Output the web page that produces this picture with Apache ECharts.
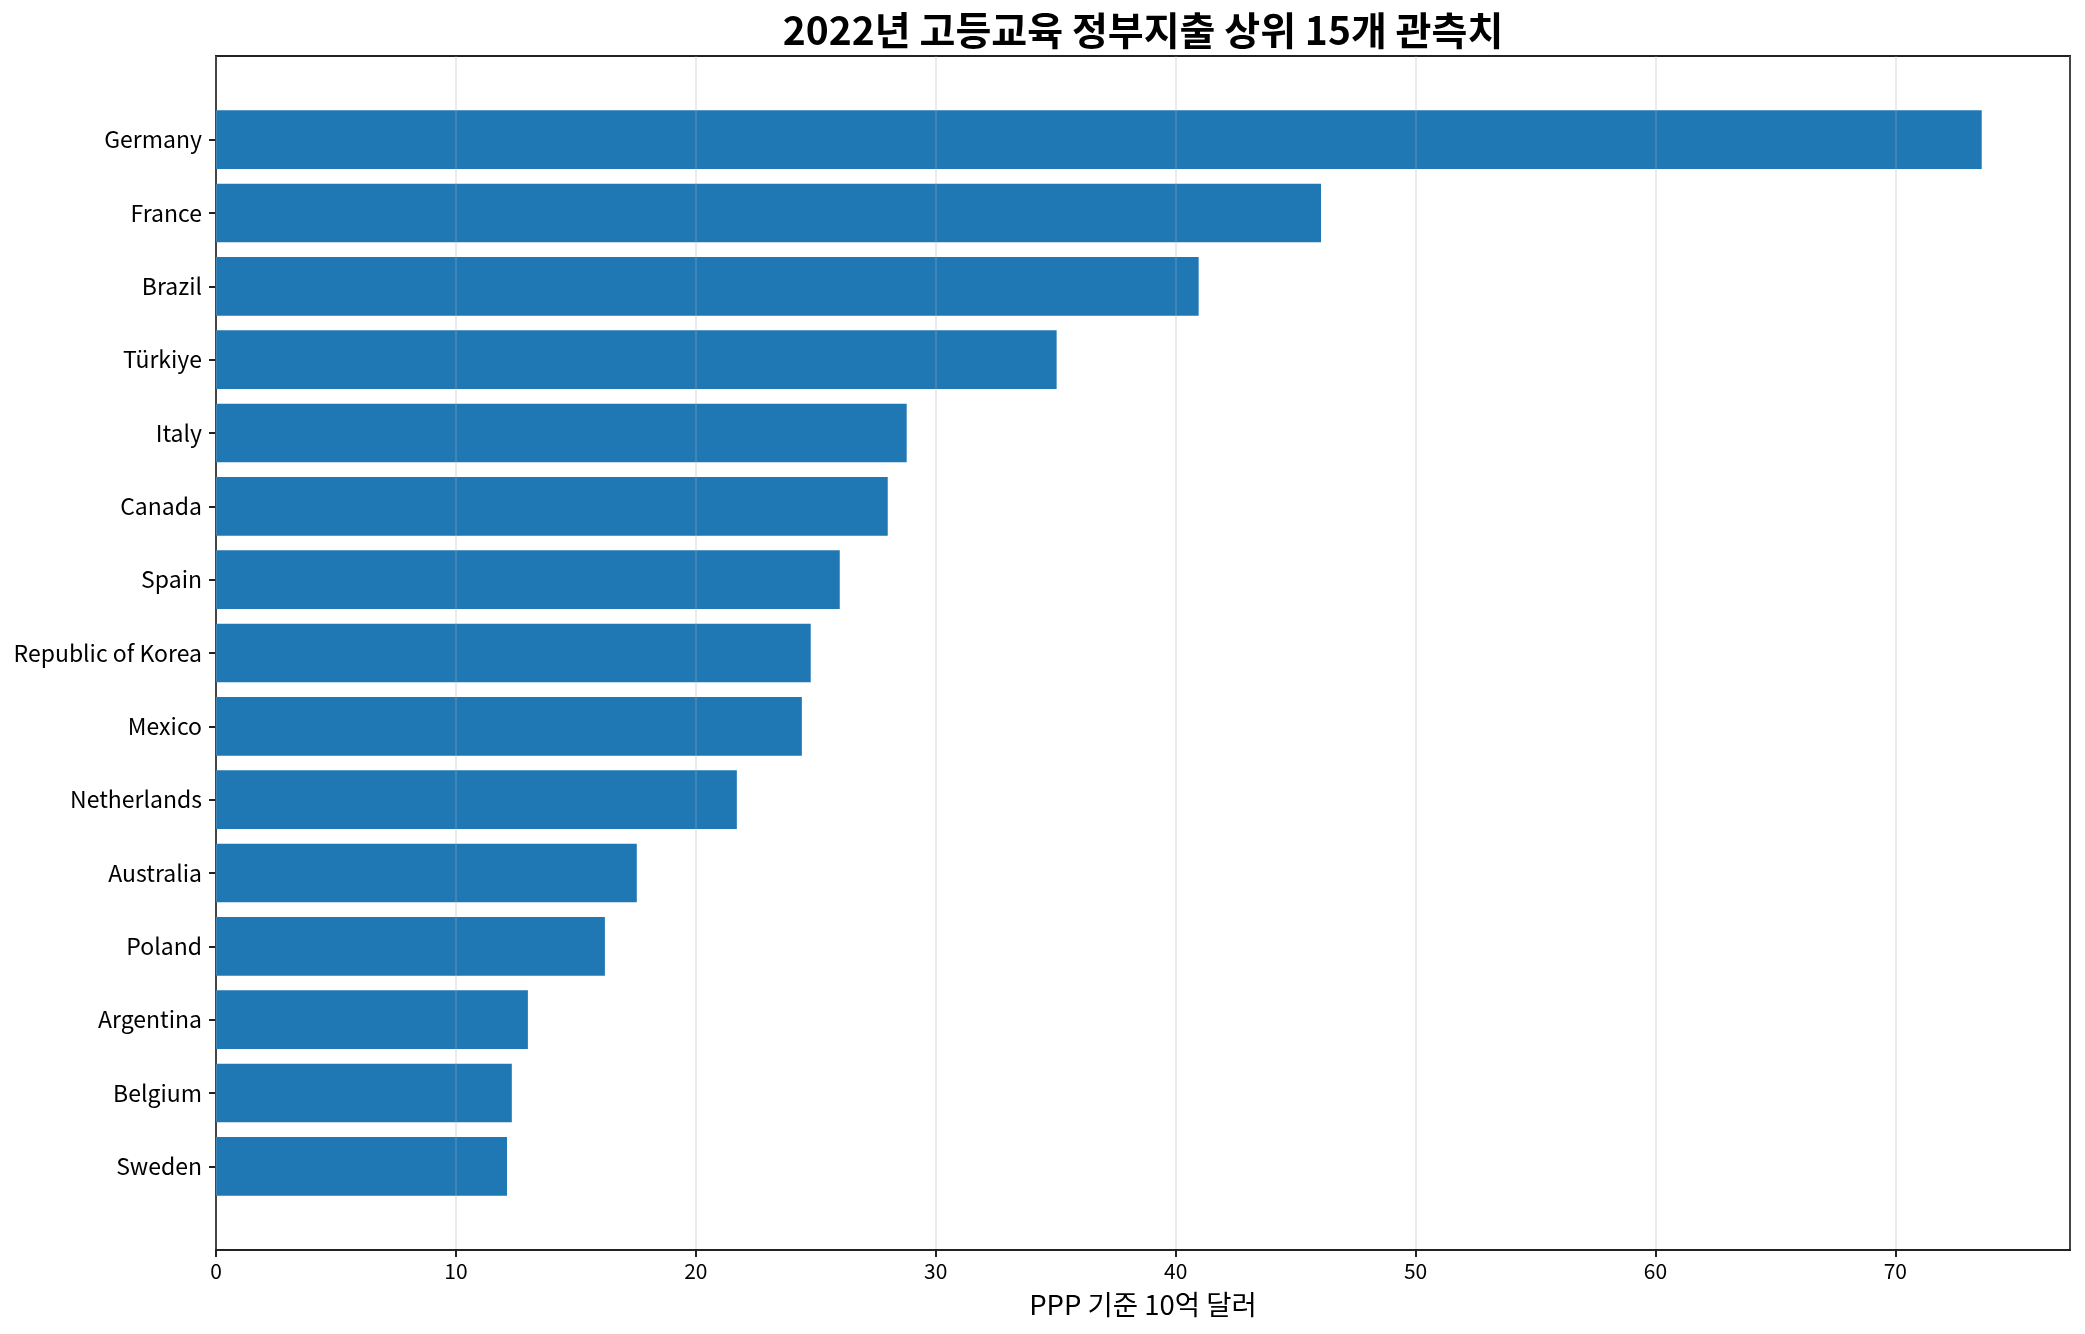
<!DOCTYPE html>
<html>
<head>
<meta charset="utf-8">
<script src="https://cdn.jsdelivr.net/npm/echarts@6/dist/echarts.min.js"></script>
<style>
  html, body { margin: 0; padding: 0; background: #fff; }
  #chart { width: 2085px; height: 1334px; }
</style>
</head>
<body>
<div id="chart"></div>
<script>
// top 15 (billion USD, PPP)
var countries = ['Germany', 'France', 'Brazil', 'Türkiye', 'Italy', 'Canada', 'Spain',
    'Republic of Korea', 'Mexico', 'Netherlands', 'Australia', 'Poland', 'Argentina',
    'Belgium', 'Sweden'];
var spending = [73.6, 46.06, 40.96, 35.04, 28.79, 28.0, 26.0, 24.79, 24.42, 21.71,
    17.54, 16.21, 13.0, 12.33, 12.13];
var xTicks = [0, 10, 20, 30, 40, 50, 60, 70];

var titleText = '2022년 고등교육 정부지출 상위 15개 관측치';
var xName = 'PPP 기준 10억 달러';

var font = '"Noto Sans CJK KR", "Noto Sans", sans-serif';
var ink = '#222';

// matplotlib style 5% margin on the value axis
var xMax = Math.max.apply(null, spending) * 1.05;

// frame box, bars sit in an inset grid (category padding like matplotlib)
var frame = { left: 216, top: 56, width: 1854, height: 1194 };
var inset = { left: 216, top: 103, width: 1854, height: 1100 };

var myChart = echarts.init(document.getElementById('chart'));

var option = {
    backgroundColor: '#fff',
    animation: false,
    textStyle: { fontFamily: font },
    graphic: [{
        type: 'text',
        x: frame.left + frame.width / 2,
        y: 30,
        style: {
            text: titleText,
            fontFamily: font,
            fontSize: 39,
            fontWeight: 'bold',
            fill: '#000',
            align: 'center',
            verticalAlign: 'middle'
        }
    }],
    grid: [
        {
            left: frame.left, top: frame.top, width: frame.width, height: frame.height,
            show: true, borderColor: ink, borderWidth: 2, backgroundColor: 'transparent'
        },
        {
            left: inset.left, top: inset.top, width: inset.width, height: inset.height
        }
    ],
    xAxis: [
        {
            type: 'value', gridIndex: 0, min: 0, max: xMax, interval: 10, z: 5,
            name: xName, nameLocation: 'middle', nameGap: 41,
            nameTextStyle: { fontFamily: font, fontSize: 27.5, color: '#000' },
            axisLine: { show: true, lineStyle: { color: ink, width: 2 } },
            axisTick: { show: true, length: 7, lineStyle: { color: ink, width: 2 } },
            axisLabel: {
                fontFamily: font, fontSize: 21, color: '#000', margin: 11,
                showMaxLabel: false,
                formatter: function (v) { return xTicks.indexOf(v) > -1 ? String(v) : ''; }
            },
            splitLine: { show: true, lineStyle: { color: 'rgba(176,176,176,0.25)', width: 2 } }
        },
        {
            type: 'value', gridIndex: 1, min: 0, max: xMax, show: false
        }
    ],
    yAxis: [
        { type: 'value', gridIndex: 0, show: false },
        {
            type: 'category', gridIndex: 1, data: countries, inverse: true,
            axisLine: { show: false },
            axisTick: { show: true, alignWithLabel: true, length: 7, lineStyle: { color: ink, width: 2 } },
            axisLabel: { fontFamily: font, fontSize: 23, color: '#000', margin: 14 },
            splitLine: { show: false }
        }
    ],
    series: [{
        type: 'bar',
        xAxisIndex: 1,
        yAxisIndex: 1,
        data: spending,
        barCategoryGap: '20%',
        itemStyle: { color: '#1f77b4' }
    }]
};

myChart.setOption(option);
</script>
</body>
</html>
